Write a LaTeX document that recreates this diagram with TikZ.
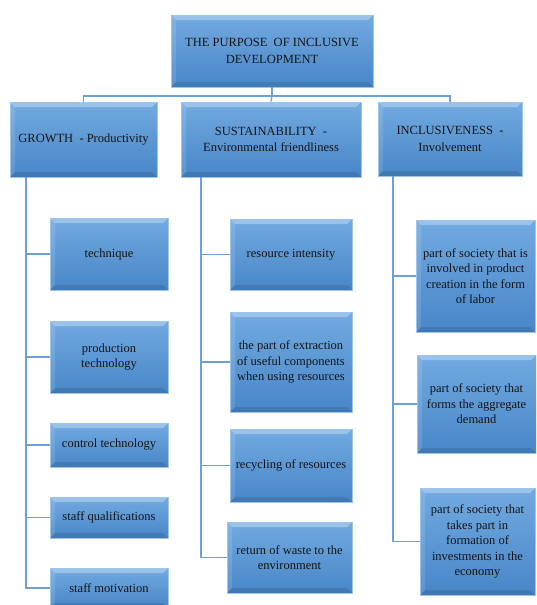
\documentclass[tikz,border=0pt]{standalone}
\usepackage{fontspec}
\setmainfont{Liberation Serif}
\usetikzlibrary{calc}
\definecolor{btop}{HTML}{72AAE0}
\definecolor{bbot}{HTML}{4886C8}
\definecolor{bedge}{HTML}{9CC4EC}
\definecolor{conn}{HTML}{6E9FD6}
\definecolor{txt}{HTML}{141414}
\tikzset{
  bx/.style={rectangle, inner sep=1pt, align=center, top color=btop, bottom color=bbot,
    draw=bedge, line width=0.8pt, text=txt,
    font=\fontsize{12.5}{15.5}\selectfont,
    path picture={
      \fill[white,opacity=0.30] (path picture bounding box.north west) -- (path picture bounding box.north east)
        -- ([shift={(-5pt,-5pt)}]path picture bounding box.north east) -- ([shift={(5pt,-5pt)}]path picture bounding box.north west) -- cycle;
      \fill[white,opacity=0.12] (path picture bounding box.north west) -- ([shift={(5pt,-5pt)}]path picture bounding box.north west)
        -- ([shift={(5pt,5pt)}]path picture bounding box.south west) -- (path picture bounding box.south west) -- cycle;
      \fill[black,opacity=0.10] (path picture bounding box.south west) -- (path picture bounding box.south east)
        -- ([shift={(-5pt,5pt)}]path picture bounding box.south east) -- ([shift={(5pt,5pt)}]path picture bounding box.south west) -- cycle;
    }},
  head/.style={bx, font=\fontsize{12.5}{16.5}\selectfont},
  cn/.style={draw=conn, line width=1.3pt}
}
\begin{document}
\begin{tikzpicture}[x=1pt,y=-1pt]
\useasboundingbox (0,0) rectangle (536,605);
\clip (0,0) rectangle (536,605);
\fill[white] (0,0) rectangle (536,605);
% top
\node[head, minimum width=202pt, minimum height=72pt] (top) at (272,51) {THE PURPOSE\ \ OF INCLUSIVE\\DEVELOPMENT};
% level 2
\node[head, minimum width=147pt, minimum height=75pt] (g) at (83.5,139.5) {GROWTH\ \ - Productivity};
\node[head, minimum width=180pt, minimum height=75pt] (s) at (271,139.5) {SUSTAINABILITY\ \ -\\Environmental friendliness};
\node[head, minimum width=144pt, minimum height=74pt] (i) at (450,139) {INCLUSIVENESS\ \ -\\Involvement};
% left column
\node[bx, minimum width=118pt, minimum height=72pt] (t1) at (109,254) {technique};
\node[bx, minimum width=118pt, minimum height=72pt] (t2) at (109,357) {production\\technology};
\node[bx, minimum width=118pt, minimum height=44pt] (t3) at (109,445) {control technology};
\node[bx, minimum width=118pt, minimum height=41pt] (t4) at (109,517.5) {staff qualifications};
\node[bx, minimum width=118pt, minimum height=40pt] (t5) at (109,588) {staff motivation};
% middle column
\node[bx, minimum width=122pt, minimum height=71pt] (m1) at (291,254.5) {resource intensity};
\node[bx, minimum width=122pt, minimum height=100pt] (m2) at (291,362) {the part of extraction\\of useful components\\when using resources};
\node[bx, minimum width=122pt, minimum height=73pt] (m3) at (291,465.5) {recycling of resources};
\node[bx, minimum width=125pt, minimum height=71pt] (m4) at (289.5,557.5) {return of waste to the\\environment};
% right column
\node[bx, minimum width=119pt, minimum height=112pt] (r1) at (475.5,276) {part of society that is\\involved in product\\creation in the form\\of labor};
\node[bx, minimum width=119pt, minimum height=98pt] (r2) at (476.5,404) {part of society that\\forms the aggregate\\demand};
\node[bx, minimum width=115pt, minimum height=107pt] (r3) at (477.5,541.5) {part of society that\\takes part in\\formation of\\investments in the\\economy};
% connectors
\coordinate (hub) at (272,96);
\draw[cn] (top.south) -- (hub);
\draw[cn] (g.north) |- (hub) -| (i.north);
\draw[cn] (hub) -- (s.north);
\coordinate (gx) at (26,0);
\coordinate (sx) at (201,0);
\coordinate (ix) at (393,0);
\foreach \n in {t1,t2,t3,t4,t5} \draw[cn] (g.south -| gx) |- (\n.west);
\foreach \n in {m1,m2,m3,m4} \draw[cn] (s.south -| sx) |- (\n.west);
\foreach \n in {r1,r2,r3} \draw[cn] (i.south -| ix) |- (\n.west);
\end{tikzpicture}
\end{document}
